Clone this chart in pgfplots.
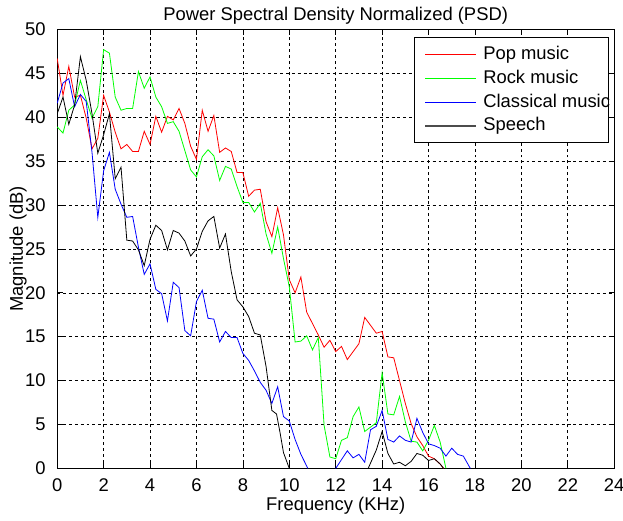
\documentclass[border=0pt]{standalone}
\usepackage{fontspec}
\setmainfont{Liberation Sans}
\usepackage{pgfplots}
\pgfplotsset{compat=1.18}
\definecolor{mred}{RGB}{255,0,0}
\definecolor{mgreen}{RGB}{0,255,0}
\definecolor{mblue}{RGB}{0,0,255}
\begin{document}
\fontsize{13.8pt}{16.5pt}\selectfont
\begin{tikzpicture}
\begin{axis}[name=ax, scale only axis, width=417.75pt, height=329.2pt,
 xmin=0, xmax=24, ymin=0, ymax=50,
 xtick={0,2,...,24}, ytick={0,5,...,50},
 tick align=inside, major tick length=4pt,
 tick style={black, line width=0.5pt},
 grid=major, major grid style={black, dash pattern=on 2.2pt off 2.2pt, line width=0.45pt},
 axis line style={black, line width=0.6pt},
 title={Power Spectral Density Normalized (PSD)},
 title style={at={(0.5,1)}, anchor=base, yshift=1pt},
 xlabel={Frequency (KHz)}, ylabel={Magnitude (dB)},
 xlabel style={at={(axis description cs:0.5,-0.097)}, anchor=base},
 ylabel style={at={(axis description cs:-0.0615,0.5)}, anchor=base},
 xticklabel style={anchor=base, yshift=-17.3pt},
 yticklabel style={anchor=east, inner sep=0pt, xshift=-8.5pt},
 /pgf/number format/assume math mode=true,
 font=\fontsize{13.8pt}{16.5pt}\selectfont,
 unbounded coords=jump,
 every axis plot/.append style={line width=0.6pt},
]
\addplot[color=mred] coordinates {
(0,46.7)(0.25,42.5)(0.5,45.8)(0.75,42.3)(1,42.5)(1.25,39.9)(1.5,36.4)(1.75,37.6)
(2,42.5)(2.25,40.6)(2.5,38.3)(2.75,36.4)(3,36.9)(3.25,36.1)(3.5,36.1)(3.75,38.4)
(4,36.9)(4.25,40.1)(4.5,38.3)(4.75,40.1)(5,39.7)(5.25,41)(5.5,39.3)(5.75,36.7)
(6,35.2)(6.25,40.8)(6.5,38.4)(6.75,40.2)(7,36)(7.25,36.5)(7.5,36.1)(7.75,33.7)
(8,33.7)(8.25,31)(8.5,31.7)(8.75,31.8)(9,28.1)(9.25,26.4)(9.5,29.7)(9.75,26.6)
(10,21.5)(10.25,20)(10.5,21.8)(10.75,17.8)(11,16.5)(11.25,15.2)(11.5,13.8)(11.75,14.6)
(12,13.3)(12.25,13.9)(12.5,12.4)(12.75,13.3)(13,14.2)(13.25,17.2)(13.5,16.3)(13.75,15.4)
(14,15.6)(14.25,12.7)(14.5,12.6)(14.75,10)(15,7.4)(15.25,5.1)(15.5,3.6)(15.75,2.6)
(16,1.4)(16.25,1.1)(16.5,0.5)(16.65,0)
};
\addplot[color=mgreen] coordinates {
(0,38.9)(0.25,38.2)(0.5,40.8)(0.75,41.4)(1,44.2)(1.25,42)(1.5,39.9)(1.75,41.2)
(2,47.7)(2.25,47.3)(2.5,42.3)(2.75,40.8)(3,41)(3.25,41)(3.5,45.2)(3.75,43.3)
(4,44.6)(4.25,42.3)(4.5,41.2)(4.75,39.3)(5,39.5)(5.25,38.4)(5.5,36.2)(5.75,34)
(6,33.2)(6.25,35.5)(6.5,36.3)(6.75,35.6)(7,32.8)(7.25,34.4)(7.5,34.1)(7.75,32.1)
(8,30.3)(8.25,30.3)(8.5,29.2)(8.75,30.2)(9,26.7)(9.25,24.5)(9.5,27.5)(9.75,23.9)
(10,20.7)(10.25,14.4)(10.5,14.5)(10.75,15.1)(11,13.5)(11.25,14.9)(11.5,4.9)(11.75,1.3)
(12,1.1)(12.25,3.2)(12.5,3.5)(12.75,5.9)(13,7)(13.25,4.2)(13.5,4.7)(13.75,5.2)
(14,10.9)(14.25,6.2)(14.5,6.1)(14.75,8.2)(15,5.3)(15.25,3.1)(15.5,3)(15.75,2)
(16,3.2)(16.25,4.9)(16.5,3)(16.75,0)
};
\addplot[color=mblue] coordinates {
(0,41.6)(0.25,43.9)(0.5,44.4)(0.75,41.2)(1,42.6)(1.25,41.8)(1.5,36)(1.75,28.6)
(2,33.9)(2.25,36)(2.5,31.8)(2.75,30.1)(3,28.6)(3.25,28.7)(3.5,25.2)(3.75,22.1)
(4,23.3)(4.25,20.4)(4.5,19.9)(4.75,16.8)(5,21.2)(5.25,20.6)(5.5,15.7)(5.75,15.1)
(6,19)(6.25,20.3)(6.5,17.1)(6.75,17)(7,14.4)(7.25,15.6)(7.5,14.9)(7.75,14.9)
(8,13.1)(8.25,12.3)(8.5,11.1)(8.75,9.8)(9,8.9)(9.25,7.4)(9.5,9.3)(9.75,5.9)
(10,5.4)(10.25,3.3)(10.5,1.6)(10.8,0)(11,nan)
(12,0)(12.25,1)(12.5,2)(12.75,1.2)(13,1.6)(13.25,0.7)(13.5,4.4)(13.75,4.8)
(14,6.6)(14.25,3.3)(14.5,3)(14.75,3.7)(15,3.2)(15.25,3)(15.5,5.7)(15.75,4.1)
(16,2.8)(16.25,2.6)(16.5,2.3)(16.75,1.4)(17,2.3)(17.25,1.6)(17.5,1.4)(17.8,0)
};
\addplot[color=black] coordinates {
(0,40.4)(0.25,42.3)(0.5,39.2)(0.75,41.4)(1,46.9)(1.25,44.2)(1.5,40.4)(1.75,35.9)
(2,38)(2.25,40.4)(2.5,33)(2.75,34.3)(3,26)(3.25,25.9)(3.5,24.9)(3.75,23.1)
(4,26.1)(4.25,27.7)(4.5,27.1)(4.75,24.9)(5,27.1)(5.25,26.8)(5.5,25.9)(5.75,24.2)
(6,25)(6.25,27)(6.5,28.2)(6.75,28.7)(7,25.1)(7.25,26.7)(7.5,22.4)(7.75,19.2)
(8,18.4)(8.25,17.3)(8.5,15.4)(8.75,15.2)(9,11.6)(9.25,6.6)(9.45,6.2)(9.6,4.1)(9.75,1.8)
(10,0)(11,nan)
(13.4,0)(13.75,2.1)(14,4.2)(14.25,1.7)(14.5,0.5)(14.75,0.7)(15,0.3)(15.25,0.8)
(15.5,1.7)(15.75,1.5)(16,0.9)(16.25,1.1)(16.5,0.5)(16.65,0)
};
\end{axis}
% legend
\draw[black, line width=0.6pt, fill=white] ([shift={(-150.15pt,-5.6pt)}]ax.north east) rectangle ([shift={(-4.65pt,-84.4pt)}]ax.north east);
\draw[mred, line width=0.8pt] ([shift={(-141.9pt,-19.1pt)}]ax.north east) -- ([shift={(-103.65pt,-19.1pt)}]ax.north east);
\draw[mgreen, line width=0.8pt] ([shift={(-141.9pt,-36.9pt)}]ax.north east) -- ([shift={(-103.65pt,-36.9pt)}]ax.north east);
\draw[mblue, line width=0.8pt] ([shift={(-141.9pt,-54.7pt)}]ax.north east) -- ([shift={(-103.65pt,-54.7pt)}]ax.north east);
\draw[black!70, line width=0.8pt] ([shift={(-141.9pt,-72.4pt)}]ax.north east) -- ([shift={(-103.65pt,-72.4pt)}]ax.north east);
\node[anchor=mid west, inner sep=0pt] at ([shift={(-98.4pt,-19.1pt)}]ax.north east) {Pop music};
\node[anchor=mid west, inner sep=0pt] at ([shift={(-98.4pt,-36.9pt)}]ax.north east) {Rock music};
\node[anchor=mid west, inner sep=0pt] at ([shift={(-98.4pt,-54.7pt)}]ax.north east) {Classical music};
\node[anchor=mid west, inner sep=0pt] at ([shift={(-98.4pt,-72.4pt)}]ax.north east) {Speech};
\pgfresetboundingbox
\path[use as bounding box] ([shift={(-42.9pt,-38.7pt)}]ax.south west) rectangle ([shift={(6.6pt,22.1pt)}]ax.north east);
\end{tikzpicture}
\end{document}
